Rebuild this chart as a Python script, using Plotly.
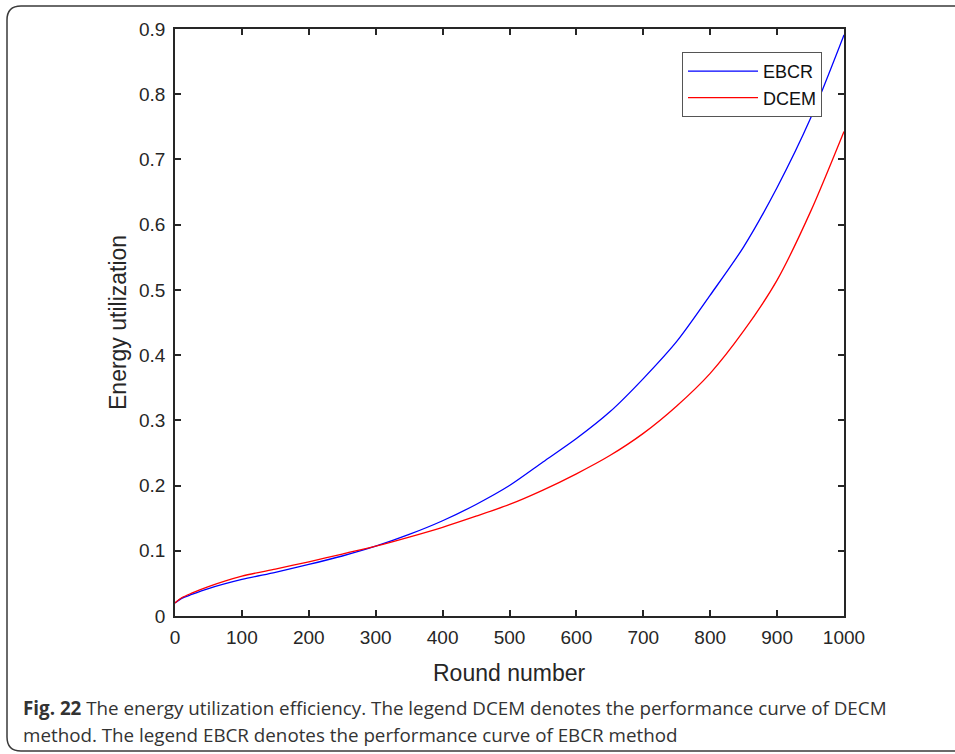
import plotly.graph_objects as go

rounds = [0, 10, 25, 50, 100, 150, 200, 250, 300, 350, 400, 450, 500, 550, 600, 650, 700, 750, 800, 850, 900, 950, 1000]
ebcr = [0.020, 0.027, 0.033, 0.042, 0.056, 0.067, 0.079, 0.092, 0.107, 0.125, 0.146, 0.171, 0.200, 0.236, 0.272, 0.313, 0.364, 0.421, 0.492, 0.566, 0.657, 0.763, 0.891]
dcem = [0.020, 0.028, 0.035, 0.045, 0.061, 0.072, 0.083, 0.095, 0.107, 0.121, 0.136, 0.153, 0.171, 0.193, 0.218, 0.246, 0.280, 0.322, 0.372, 0.437, 0.515, 0.620, 0.743]

xticks = [0, 100, 200, 300, 400, 500, 600, 700, 800, 900, 1000]
yticks = [0, 0.1, 0.2, 0.3, 0.4, 0.5, 0.6, 0.7, 0.8, 0.9]
ytick_text = ["0", "0.1", "0.2", "0.3", "0.4", "0.5", "0.6", "0.7", "0.8", "0.9"]

W, H = 955, 754
L, R, T, B = 175, 844, 29, 616

def px(x):
    return (x - L) / (R - L)

def py(y):
    return (B - y) / (B - T)

AX_FONT = "Liberation Sans, Arial, sans-serif"
INK = "#262626"

fig = go.Figure()
fig.add_trace(go.Scatter(x=rounds, y=ebcr, mode="lines", name="EBCR",
                         line=dict(color="#0000ff", width=1.3, shape="spline", smoothing=0.8)))
fig.add_trace(go.Scatter(x=rounds, y=dcem, mode="lines", name="DCEM",
                         line=dict(color="#ff0000", width=1.3, shape="spline", smoothing=0.8)))

axis_common = dict(showgrid=False, zeroline=False, showline=True, linecolor=INK, linewidth=1.6,
                   mirror="ticks", ticks="inside", ticklen=6, tickwidth=1.6, tickcolor=INK,
                   automargin=False,
                   tickfont=dict(family=AX_FONT, size=19, color=INK))

fig.update_xaxes(range=[0, 1000], tickvals=xticks, ticktext=[str(v) for v in xticks],
                 ticklabelstandoff=3, **axis_common)
fig.update_yaxes(range=[0, 0.9], tickvals=yticks, ticktext=ytick_text,
                 ticklabelstandoff=4, **axis_common)

# axis titles
fig.add_annotation(x=px(509), y=py(673), xref="paper", yref="paper", xanchor="center", yanchor="middle",
                   showarrow=False, text="Round number", font=dict(family=AX_FONT, size=23, color=INK))
fig.add_annotation(x=px(118), y=py(323), xref="paper", yref="paper", xanchor="center", yanchor="middle",
                   showarrow=False, text="Energy utilization", textangle=-90,
                   font=dict(family=AX_FONT, size=23, color=INK))

# rounded border frame (right side runs off the page)
x0, x1 = px(7), px(1020)
y0, y1 = py(751), py(6)
rx = 14 / (R - L)
ry = 14 / (B - T)
path = (f"M {x0+rx},{y1} L {x1-rx},{y1} Q {x1},{y1} {x1},{y1-ry} L {x1},{y0+ry} Q {x1},{y0} {x1-rx},{y0} "
        f"L {x0+rx},{y0} Q {x0},{y0} {x0},{y0+ry} L {x0},{y1-ry} Q {x0},{y1} {x0+rx},{y1} Z")
fig.add_shape(type="path", path=path, xref="paper", yref="paper",
              line=dict(color="#3a3a3a", width=1.5), fillcolor="rgba(0,0,0,0)", layer="below")

cap_font = dict(family="Open Sans, Noto Sans", size=18.8, color="#333333")
fig.add_annotation(x=px(21), y=py(708), xref="paper", yref="paper", xanchor="left", yanchor="middle",
                   showarrow=False, font=cap_font,
                   text="<b>Fig. 22</b> The energy utilization efficiency. The legend DCEM denotes the performance curve of DECM")
fig.add_annotation(x=px(21), y=py(735), xref="paper", yref="paper", xanchor="left", yanchor="middle",
                   showarrow=False, font=cap_font,
                   text="method. The legend EBCR denotes the performance curve of EBCR method")

fig.update_layout(
    width=W, height=H,
    margin=dict(l=L, r=W - R, t=T, b=H - B),
    paper_bgcolor="white", plot_bgcolor="white",
    showlegend=True,
    legend=dict(x=px(682), y=py(52), xanchor="left", yanchor="top",
                bgcolor="white", bordercolor="#555555", borderwidth=1,
                font=dict(family=AX_FONT, size=18, color="#111111"),
                tracegroupgap=0, itemwidth=70),
)

fig.write_html("out.html", config={"displayModeBar": False},
               post_script="document.body.style.margin='0px';document.body.style.overflow='hidden';")
